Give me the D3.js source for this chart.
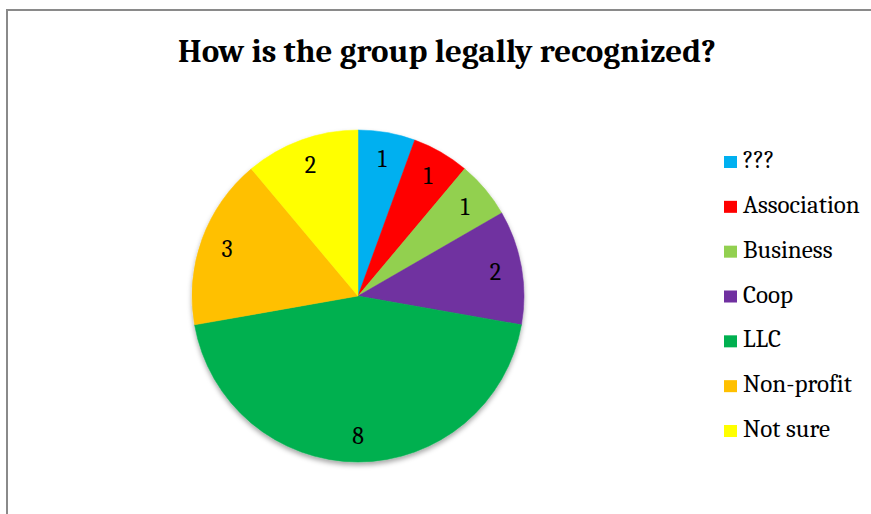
<!DOCTYPE html>
<html>
<head>
<meta charset="utf-8">
<script src="https://cdn.jsdelivr.net/npm/d3@7"></script>
<style>
  body { margin: 0; background: #fff; }
  svg { display: block; }
</style>
</head>
<body>
<div id="chart"></div>
<script>
"use strict";

const categories = ["???", "Association", "Business", "Coop", "LLC", "Non-profit", "Not sure"];
const counts = [1, 1, 1, 2, 8, 3, 2];
const colors = ["#00B0F0", "#FF0000", "#92D050", "#7030A0", "#00B050", "#FFC000", "#FFFF00"];
const title = "How is the group legally recognized?";

const width = 871;
const height = 514;
const cx = 358, cy = 296, radius = 166;
const serif = "Cambria, 'Liberation Serif', serif";

const data = categories.map((c, i) => ({ name: c, value: counts[i], color: colors[i] }));

const svg = d3.select("#chart").append("svg")
              .attr("width", width)
              .attr("height", height);

// chart frame (runs off the right and bottom edges)
svg.append("rect")
   .attr("x", 7).attr("y", 10)
   .attr("width", 900).attr("height", 600)
   .attr("fill", "none")
   .attr("stroke", "#8a8a8a")
   .attr("stroke-width", 2);

svg.append("text")
   .attr("x", 447).attr("y", 62)
   .attr("text-anchor", "middle")
   .attr("font-family", serif)
   .attr("font-weight", "bold")
   .attr("font-size", 33)
   .attr("fill", "#000")
   .text(title);

const defs = svg.append("defs");
defs.append("filter").attr("id", "shadow")
    .attr("x", "-10%").attr("y", "-10%").attr("width", "120%").attr("height", "125%")
    .append("feDropShadow")
    .attr("dx", 0).attr("dy", 3).attr("stdDeviation", 2.5)
    .attr("flood-color", "#000").attr("flood-opacity", 0.35);

const pie = d3.pie().sort(null).value(d => d.value);
const arc = d3.arc().innerRadius(0).outerRadius(radius);
const labelArc = d3.arc().innerRadius(radius * 0.84).outerRadius(radius * 0.84);

const g = svg.append("g")
             .attr("transform", `translate(${cx}, ${cy})`);

const slices = pie(data);

g.append("g")
 .attr("filter", "url(#shadow)")
 .selectAll("path").data(slices).enter()
 .append("path")
 .attr("d", arc)
 .attr("fill", d => d.data.color)
 .attr("stroke", d => d.data.color)
 .attr("stroke-width", 0.5);

g.selectAll("text.value").data(slices).enter()
 .append("text")
 .attr("class", "value")
 .attr("transform", d => `translate(${labelArc.centroid(d)})`)
 .attr("text-anchor", "middle")
 .attr("dy", "0.35em")
 .attr("font-family", serif)
 .attr("font-size", 24)
 .attr("fill", "#000")
 .text(d => d.data.value);

const legendY = d3.scalePoint()
                  .domain(categories)
                  .range([168, 437]);

const legend = svg.append("g").attr("class", "legend")
                  .selectAll("g").data(data).enter()
                  .append("g")
                  .attr("transform", d => `translate(724, ${legendY(d.name)})`);

legend.append("rect")
      .attr("x", 0).attr("y", -12)
      .attr("width", 13).attr("height", 12)
      .attr("fill", d => d.color);

legend.append("text")
      .attr("x", 19).attr("y", 0)
      .attr("font-family", serif)
      .attr("font-size", 25)
      .attr("fill", "#000")
      .text(d => d.name);
</script>
</body>
</html>
